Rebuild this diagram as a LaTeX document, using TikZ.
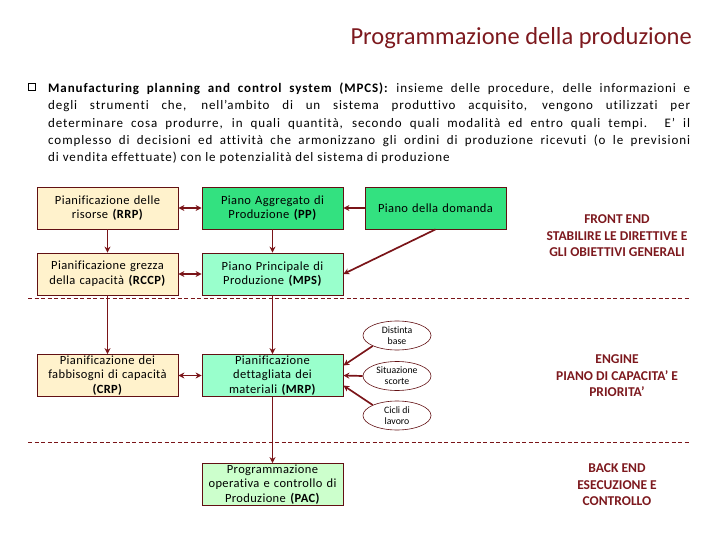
\documentclass[tikz,border=0pt]{standalone}
\usepackage{fontspec}
\setmainfont{Carlito}[Ligatures=CommonOff]
\newfontfamily\spaced{Carlito}[Ligatures=CommonOff,LetterSpace=7]
\newfontfamily\boxfont{Carlito}[Ligatures=CommonOff,LetterSpace=3]
\usetikzlibrary{arrows.meta,shapes.geometric,calc}
\definecolor{dred}{RGB}{122,20,24}
\definecolor{tred}{RGB}{125,25,30}
\definecolor{cream}{RGB}{255,242,204}
\definecolor{gbright}{RGB}{51,225,128}
\definecolor{mint}{RGB}{153,255,204}
\definecolor{lgreen}{RGB}{204,255,204}
\tikzset{
  box/.style={draw=dred!80!black, line width=0.8pt, minimum width=141pt, minimum height=42pt, inner sep=0.5pt, align=center, text width=140pt, font=\boxfont\fontsize{12.5}{14.6}\selectfont},
  ell/.style={ellipse, draw=dred!80!black, line width=0.6pt, minimum width=68pt, minimum height=29pt, inner sep=0pt, align=center, font=\fontsize{9.8}{11}\selectfont},
  conn/.style={draw=dred, line width=1.7pt, -{Stealth[length=6pt,width=6pt]}},
  dconn/.style={draw=dred, line width=1.7pt, {Stealth[length=6pt,width=6pt]}-{Stealth[length=6pt,width=6pt]}},
  sep/.style={draw=dred, line width=0.6pt, dash pattern=on 4pt off 2.5pt},
  lab/.style={text=tred, font=\bfseries\fontsize{13.5}{16.6}\selectfont, align=center}
}
\begin{document}
\begin{tikzpicture}[x=1pt,y=-1pt]
\useasboundingbox (0,0) rectangle (720,540);
% title
\node[anchor=east, text=tred, font=\fontsize{24.5}{28}\selectfont, inner sep=0] (title) at (692,38) {Programmazione della produzione};
% bullet
\node[draw=black, line width=0.7pt, minimum size=7pt, inner sep=0] (bul) at (32,87) {};
% paragraph
\node[anchor=north west, inner sep=0, text width=642pt, align=justify, font=\spaced\fontsize{13}{17.1}\selectfont] (para) at (48,83) {%
\textbf{Manufacturing planning and control system (MPCS):} insieme delle procedure, delle informazioni e\linebreak
degli strumenti che, nell’ambito di un sistema produttivo acquisito, vengono utilizzati per\linebreak
determinare cosa produrre, in quali quantità, secondo quali modalità ed entro quali tempi. E’ il\linebreak
complesso di decisioni ed attività che armonizzano gli ordini di produzione ricevuti (o le previsioni\linebreak
di vendita effettuate) con le potenzialità del sistema di produzione\par};
% boxes
\node[box, fill=cream] (rrp) at (107.5,208) {Pianificazione delle\\risorse \textbf{(RRP)}};
\node[box, fill=gbright] (pp) at (272.5,208) {Piano Aggregato di\\Produzione \textbf{(PP)}};
\node[box, fill=gbright] (dom) at (435.5,208) {Piano della domanda};
\node[box, fill=cream] (rccp) at (107.5,274) {Pianificazione grezza\\della capacità \textbf{(RCCP)}};
\node[box, fill=mint] (mps) at (272.5,274) {Piano Principale di\\Produzione \textbf{(MPS)}};
\node[box, fill=cream] (crp) at (107.5,375.5) {Pianificazione dei\\fabbisogni di capacità\\\textbf{(CRP)}};
\node[box, fill=mint] (mrp) at (272.5,375.5) {Pianificazione\\dettagliata dei\\materiali \textbf{(MRP)}};
\node[box, fill=lgreen] (pac) at (272.5,484.5) {Programmazione\\operativa e controllo di\\Produzione \textbf{(PAC)}};
% ellipses
\node[ell] (dist) at (397,335.5) {Distinta\\base};
\node[ell] (sit) at (397,376) {Situazione\\scorte};
\node[ell] (cic) at (397,415.5) {Cicli di\\lavoro};
% separators
\coordinate (s1a) at (28,298); \coordinate (s1b) at (690,298);
\coordinate (s2a) at (28,442); \coordinate (s2b) at (690,442);
\draw[sep] (s1a) -- (s1b);
\draw[sep] (s2a) -- (s2b);
% connectors
\draw[dconn] (rrp) -- (pp);
\draw[conn] (dom) -- (pp);
\draw[conn] (dom.south) -- (mps.east);
\draw[conn] (rrp) -- (rccp);
\draw[conn] (pp) -- (mps);
\draw[dconn] (rccp) -- (mps);
\draw[conn] (rccp) -- (crp);
\draw[conn] (mps) -- (mrp);
\draw[dconn] (crp) -- (mrp);
\draw[conn] (dist.south west) -- ($(mrp.east)+(0,-10)$);
\draw[conn] (sit.west) -- (mrp.east);
\draw[conn] (cic.north west) -- ($(mrp.east)+(0,10)$);
\draw[conn] (mrp) -- (pac);
% right labels
\node[lab] (fe) at (617,236) {FRONT END\\STABILIRE LE DIRETTIVE E\\GLI OBIETTIVI GENERALI};
\node[lab] (en) at (617,376) {ENGINE\\PIANO DI CAPACITA’ E\\PRIORITA’};
\node[lab] (be) at (617,485) {BACK END\\ESECUZIONE E\\CONTROLLO};
\end{tikzpicture}
\end{document}
